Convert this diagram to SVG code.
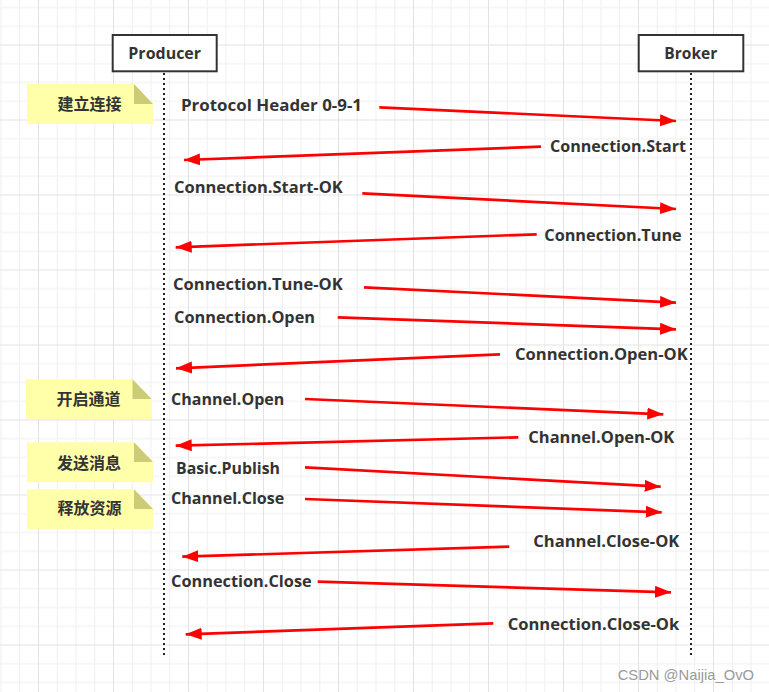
<svg xmlns="http://www.w3.org/2000/svg" width="769" height="692" viewBox="0 0 769 692">
<style>
.lbl{font-family:"Open Sans","Noto Sans","Liberation Sans",sans-serif;font-size:16.5px;font-weight:bold;fill:#333}
.note-t{font-family:"Noto Sans CJK SC","Noto Sans",sans-serif;font-size:16px;font-weight:bold;fill:#333;text-anchor:middle}
.box{fill:#fff;stroke:#333;stroke-width:2}
.life{stroke:#222;stroke-width:2;stroke-dasharray:2 3;fill:none}
.msg{stroke:#ff0000;stroke-width:2.7;fill:none;marker-end:url(#ah)}
.note{fill:#ffffaa}
.fold{fill:#cccc77}
</style>
<defs>
<pattern id="grid" patternUnits="userSpaceOnUse" x="38" y="44.5" width="75" height="75">
<path d="M0.5 0V75M19.25 0V75M38 0V75M56.75 0V75M0 0.5H75M0 19.25H75M0 38H75M0 56.75H75" stroke="#efefef" stroke-width="1"/>
<path d="M0.5 0V75M0 0.5H75" stroke="#e2e2e2" stroke-width="1"/>
</pattern>
<marker id="ah" markerUnits="userSpaceOnUse" markerWidth="18" markerHeight="14" refX="16" refY="6" orient="auto">
<path d="M0 0L16 6L0 12z" fill="#ff0000"/>
</marker>
</defs>
<rect width="769" height="692" fill="#fff"/>
<rect width="769" height="692" fill="url(#grid)"/>

<g id="producer">
<rect class="box" x="112.7" y="35" width="104" height="36.3"/>
<text class="lbl" x="164.7" y="59" text-anchor="middle" textLength="72.7" lengthAdjust="spacingAndGlyphs">Producer</text>
<line class="life" x1="164" y1="73" x2="164" y2="656"/>
</g>
<g id="broker">
<rect class="box" x="638.7" y="35" width="104.6" height="36.3"/>
<text class="lbl" x="690.8" y="59" text-anchor="middle" textLength="53" lengthAdjust="spacingAndGlyphs">Broker</text>
<line class="life" x1="691" y1="73" x2="691" y2="656"/>
</g>

<g id="note-connect">
<path class="note" d="M27 84H134L153 104V124H27Z"/>
<path class="fold" d="M134 84V104H153Z"/>
<text class="note-t" x="89.5" y="110">建立连接</text>
</g>
<g id="note-channel">
<path class="note" d="M26 379.3H132.5L151.7 399V419.3H26Z"/>
<path class="fold" d="M132.5 379.3V399H151.7Z"/>
<text class="note-t" x="88.5" y="405">开启通道</text>
</g>
<g id="note-publish">
<path class="note" d="M27 442.3H134L153 462V482.3H27Z"/>
<path class="fold" d="M134 442.3V462H153Z"/>
<text class="note-t" x="89" y="468.5">发送消息</text>
</g>
<g id="note-release">
<path class="note" d="M27 489.3H134L153 509V529.3H27Z"/>
<path class="fold" d="M134 489.3V509H153Z"/>
<text class="note-t" x="89.5" y="514">释放资源</text>
</g>

<g id="connectors">
<line class="msg" x1="379.3" y1="107.3" x2="676" y2="121"/>
<line class="msg" x1="541" y1="146.7" x2="184" y2="160"/>
<line class="msg" x1="362.3" y1="193.3" x2="676" y2="209"/>
<line class="msg" x1="536.7" y1="234.3" x2="175.7" y2="247.3"/>
<line class="msg" x1="364" y1="287.3" x2="676" y2="302.7"/>
<line class="msg" x1="337.7" y1="317.3" x2="676" y2="329.3"/>
<line class="msg" x1="500" y1="354.3" x2="176" y2="368.3"/>
<line class="msg" x1="305" y1="399" x2="663.3" y2="414.3"/>
<line class="msg" x1="518.3" y1="437.3" x2="175.7" y2="445.7"/>
<line class="msg" x1="305" y1="467.3" x2="660.7" y2="486.7"/>
<line class="msg" x1="305" y1="499" x2="661.7" y2="512.3"/>
<line class="msg" x1="509.3" y1="546.7" x2="182.3" y2="556.7"/>
<line class="msg" x1="317.7" y1="581.7" x2="671" y2="592.3"/>
<line class="msg" x1="493.3" y1="623.3" x2="185.7" y2="634.3"/>
</g>

<g id="labels">
<text class="lbl" x="181" y="111" textLength="181" lengthAdjust="spacingAndGlyphs">Protocol Header 0-9-1</text>
<text class="lbl" x="550" y="151.5" textLength="136" lengthAdjust="spacingAndGlyphs">Connection.Start</text>
<text class="lbl" x="174" y="193.3" textLength="168.7" lengthAdjust="spacingAndGlyphs">Connection.Start-OK</text>
<text class="lbl" x="544.3" y="240.7" textLength="137.4" lengthAdjust="spacingAndGlyphs">Connection.Tune</text>
<text class="lbl" x="173" y="290" textLength="169.7" lengthAdjust="spacingAndGlyphs">Connection.Tune-OK</text>
<text class="lbl" x="174" y="323.3" textLength="141" lengthAdjust="spacingAndGlyphs">Connection.Open</text>
<text class="lbl" x="515" y="360" textLength="172.7" lengthAdjust="spacingAndGlyphs">Connection.Open-OK</text>
<text class="lbl" x="171" y="405" textLength="113.3" lengthAdjust="spacingAndGlyphs">Channel.Open</text>
<text class="lbl" x="528.3" y="442.7" textLength="146" lengthAdjust="spacingAndGlyphs">Channel.Open-OK</text>
<text class="lbl" x="176" y="474" textLength="104" lengthAdjust="spacingAndGlyphs">Basic.Publish</text>
<text class="lbl" x="171" y="504.3" textLength="113.3" lengthAdjust="spacingAndGlyphs">Channel.Close</text>
<text class="lbl" x="533.3" y="546.7" textLength="146" lengthAdjust="spacingAndGlyphs">Channel.Close-OK</text>
<text class="lbl" x="171" y="587.3" textLength="140.7" lengthAdjust="spacingAndGlyphs">Connection.Close</text>
<text class="lbl" x="507.7" y="630" textLength="171.6" lengthAdjust="spacingAndGlyphs">Connection.Close-Ok</text>
</g>

<text x="617.7" y="680" font-family="'Liberation Sans',Arial,sans-serif" font-size="15" fill="#9a9a9a" textLength="136.3" lengthAdjust="spacingAndGlyphs">CSDN @Naijia_OvO</text>
</svg>
